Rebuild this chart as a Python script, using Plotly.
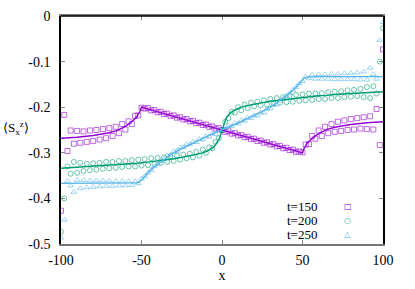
import plotly.graph_objects as go

# ---------------- data ----------------
x_pts = list(range(-100, 101, 2))

t150_pts = [-0.427, -0.217, -0.296, -0.251, -0.280, -0.252, -0.278, -0.253, -0.276, -0.251,
            -0.274, -0.250, -0.271, -0.248, -0.268, -0.246, -0.263, -0.243, -0.257, -0.237,
            -0.249, -0.231, -0.237, -0.219, -0.218, -0.201,
            -0.203, -0.202, -0.207, -0.206, -0.211, -0.210, -0.215, -0.214, -0.219, -0.218,
            -0.223, -0.222, -0.227, -0.226, -0.231, -0.230, -0.235, -0.234, -0.239, -0.238,
            -0.243, -0.242, -0.247, -0.246, -0.250,
            -0.254, -0.253, -0.258, -0.257, -0.262, -0.261, -0.266, -0.265, -0.270, -0.269,
            -0.274, -0.273, -0.278, -0.277, -0.282, -0.281, -0.286, -0.285, -0.290, -0.289,
            -0.294, -0.293, -0.298, -0.297,
            -0.299, -0.282, -0.281, -0.263, -0.269, -0.251, -0.263, -0.243, -0.257, -0.237,
            -0.254, -0.232, -0.252, -0.229, -0.250, -0.226, -0.249, -0.224, -0.247, -0.222,
            -0.248, -0.220, -0.249, -0.204, -0.283, -0.073]

t200_pts = [-0.473, -0.400, -0.330, -0.346, -0.320, -0.344, -0.322, -0.340, -0.324, -0.338,
            -0.323, -0.337, -0.322, -0.335, -0.320, -0.334, -0.320, -0.333, -0.318, -0.331,
            -0.318, -0.330, -0.316, -0.330, -0.315, -0.328, -0.314, -0.327, -0.312, -0.325,
            -0.311, -0.322, -0.310, -0.320, -0.308, -0.318, -0.306, -0.315, -0.304, -0.312,
            -0.302, -0.310, -0.298, -0.306, -0.293, -0.300, -0.288, -0.290, -0.276, -0.268,
            -0.250,
            -0.232, -0.224, -0.210, -0.212, -0.200, -0.207, -0.194, -0.202, -0.190, -0.198,
            -0.188, -0.196, -0.185, -0.194, -0.182, -0.192, -0.180, -0.190, -0.178, -0.189,
            -0.175, -0.188, -0.173, -0.186, -0.172, -0.185, -0.170, -0.184, -0.170, -0.182,
            -0.169, -0.182, -0.167, -0.180, -0.166, -0.180, -0.165, -0.178, -0.163, -0.177,
            -0.162, -0.176, -0.160, -0.178, -0.156, -0.180, -0.154, -0.170, -0.100, -0.027]

t250_pts = [-0.486, -0.447, -0.362, -0.372, -0.386, -0.360, -0.378, -0.360, -0.376, -0.361,
            -0.375, -0.361, -0.374, -0.361, -0.373, -0.361, -0.373, -0.362, -0.372, -0.362,
            -0.372, -0.362, -0.371, -0.363, -0.367, -0.357, -0.352, -0.344, -0.338, -0.330,
            -0.325, -0.318, -0.314, -0.306, -0.305, -0.297, -0.296, -0.288, -0.288, -0.281,
            -0.282, -0.276, -0.277, -0.270, -0.271, -0.264, -0.265, -0.258, -0.259, -0.252,
            -0.250,
            -0.248, -0.241, -0.242, -0.235, -0.236, -0.229, -0.230, -0.223, -0.224, -0.218,
            -0.219, -0.212, -0.212, -0.204, -0.203, -0.195, -0.194, -0.186, -0.182, -0.175,
            -0.170, -0.162, -0.156, -0.148, -0.143, -0.133, -0.137, -0.129, -0.138, -0.128,
            -0.138, -0.128, -0.138, -0.127, -0.139, -0.127, -0.139, -0.126, -0.139, -0.125,
            -0.139, -0.124, -0.140, -0.122, -0.140, -0.114, -0.128, -0.138, -0.053, -0.014]

x_line = [-100, -90, -80, -70, -65, -60, -56, -53, -51, -50, -48, -45, -40, -35, -30, -25,
          -20, -15, -11, -8, -5, -3, -2, -1, 0, 1, 2, 3, 5, 8, 11, 15, 20, 25, 30, 35, 40,
          45, 48, 50, 51, 53, 56, 60, 65, 70, 80, 90, 100]

t150_line = [-0.268, -0.266, -0.262, -0.256, -0.251, -0.242, -0.232, -0.221, -0.210, -0.200,
             -0.202, -0.205, -0.210, -0.215, -0.220, -0.225, -0.230, -0.235, -0.239, -0.242,
             -0.245, -0.247, -0.248, -0.249, -0.250, -0.251, -0.252, -0.253, -0.255, -0.258,
             -0.261, -0.265, -0.270, -0.275, -0.280, -0.285, -0.290, -0.295, -0.298, -0.300,
             -0.290, -0.279, -0.268, -0.258, -0.249, -0.244, -0.238, -0.234, -0.232]

t200_line = [-0.334, -0.332, -0.330, -0.328, -0.326, -0.325, -0.324, -0.323, -0.322, -0.322,
             -0.321, -0.320, -0.318, -0.315, -0.313, -0.310, -0.307, -0.303, -0.299, -0.294,
             -0.287, -0.278, -0.271, -0.262, -0.250, -0.238, -0.229, -0.222, -0.213, -0.206,
             -0.201, -0.197, -0.193, -0.190, -0.187, -0.185, -0.182, -0.180, -0.179, -0.178,
             -0.178, -0.177, -0.176, -0.175, -0.174, -0.172, -0.170, -0.168, -0.166]

t250_line = [-0.367, -0.367, -0.367, -0.367, -0.367, -0.367, -0.367, -0.366, -0.364, -0.360,
             -0.352, -0.340, -0.325, -0.312, -0.300, -0.291, -0.282, -0.274, -0.267, -0.262,
             -0.257, -0.254, -0.253, -0.251, -0.250, -0.249, -0.247, -0.246, -0.243, -0.238,
             -0.233, -0.226, -0.218, -0.209, -0.200, -0.188, -0.175, -0.160, -0.148, -0.140,
             -0.136, -0.134, -0.133, -0.133, -0.133, -0.133, -0.133, -0.133, -0.133]

series_names = ["t=150", "t=200", "t=250"]
x_ticks = [-100, -50, 0, 50, 100]
x_ticklabels = ["-100", "-50", "0", "50", "100"]
y_ticks = [0, -0.1, -0.2, -0.3, -0.4, -0.5]
y_ticklabels = ["0", "-0.1", "-0.2", "-0.3", "-0.4", "-0.5"]

# ---------------- style ----------------
colors = ["#9400d3", "#009e73", "#56b4e9"]
symbols = ["square-open", "circle-open", "triangle-up-open"]
legend_glyphs = ["□", "○", "△"]
FONT = "Liberation Serif"
tickfont = dict(family=FONT, size=14, color="black")

fig = go.Figure()
pts = [t150_pts, t200_pts, t250_pts]
lines = [t150_line, t200_line, t250_line]

for i in range(3):
    fig.add_trace(go.Scatter(
        x=x_pts, y=pts[i], mode="markers", name=series_names[i], showlegend=False,
        marker=dict(symbol=symbols[i], size=5, color=colors[i], opacity=0.65,
                    line=dict(width=0.9, color=colors[i])),
    ))
for i in range(3):
    fig.add_trace(go.Scatter(
        x=x_line, y=lines[i], mode="lines", showlegend=False,
        line=dict(color=colors[i], width=1.4),
    ))

# legend (gnuplot style: text left, symbol right)
for i in range(3):
    yy = 0.165 - i * 0.062
    fig.add_annotation(xref="paper", yref="paper", x=0.80, y=yy, xanchor="right",
                       yanchor="middle", text=series_names[i], showarrow=False,
                       font=dict(family=FONT, size=13, color="black"))
    fig.add_annotation(xref="paper", yref="paper", x=0.89, y=yy, xanchor="center",
                       yanchor="middle", text=legend_glyphs[i], showarrow=False,
                       font=dict(family="DejaVu Sans", size=8, color=colors[i]))

# y-axis title
fig.add_annotation(xref="paper", yref="paper", x=-0.185, y=0.51, xanchor="left",
                   yanchor="middle", showarrow=False,
                   text="⟨S<sub>x</sub><sup>z</sup>⟩",
                   font=dict(family=FONT, size=13, color="black"))

# top border
fig.add_shape(type="line", xref="paper", yref="paper", x0=0, x1=1, y0=1, y1=1,
              line=dict(color="black", width=1.5))

fig.update_layout(
    width=415, height=289,
    margin=dict(l=61, r=32, t=16, b=45, autoexpand=False),
    paper_bgcolor="white", plot_bgcolor="white",
    font=dict(family=FONT, size=14, color="black"),
    xaxis=dict(range=[-100, 100], tickvals=x_ticks, ticktext=x_ticklabels,
               showgrid=False, zeroline=False, showline=True, linecolor="#777777",
               linewidth=1.5, mirror="ticks", ticks="inside", ticklen=4,
               tickcolor="#888888", tickwidth=1, ticklabelstandoff=2,
               tickfont=tickfont, automargin=False,
               title=dict(text="x", font=dict(family=FONT, size=14), standoff=4)),
    yaxis=dict(range=[-0.5, 0], tickvals=y_ticks, ticktext=y_ticklabels,
               showgrid=False, zeroline=False, showline=True, linecolor="black",
               linewidth=1.5, mirror="ticks", ticks="inside", ticklen=4,
               tickcolor="#888888", tickwidth=1, ticklabelstandoff=6,
               tickfont=tickfont, automargin=False),
)

# remove the browser's default 8px body margin so the figure fills the window
fig.write_html("out.html",
               config={"displayModeBar": False},
               post_script="document.body.style.margin='0px';document.body.style.overflow='hidden';")
